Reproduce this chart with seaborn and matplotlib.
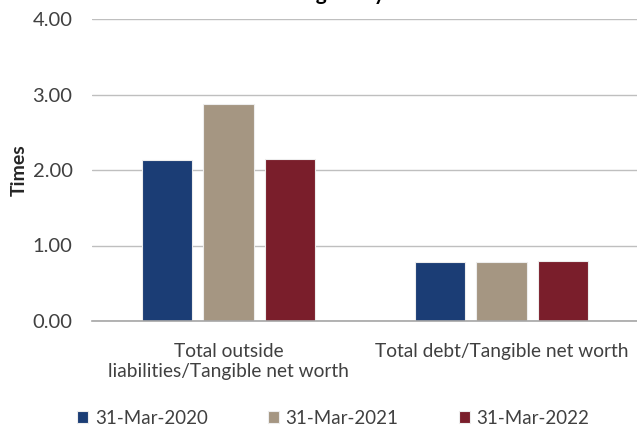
import matplotlib
matplotlib.use("Agg")
import matplotlib.pyplot as plt
import seaborn as sns
import pandas as pd

categories = ["Total outside\nliabilities/Tangible net worth", "Total debt/Tangible net worth"]
periods = ["31-Mar-2020", "31-Mar-2021", "31-Mar-2022"]
values_2020 = [2.13, 0.78]
values_2021 = [2.88, 0.78]
values_2022 = [2.15, 0.80]
colors = ["#1B3D75", "#A59682", "#7A1E2B"]
yticks = [0.0, 1.0, 2.0, 3.0, 4.0]

rows = []
for p, vals in zip(periods, [values_2020, values_2021, values_2022]):
    for c, v in zip(categories, vals):
        rows.append({"Category": c, "Period": p, "Value": v})
df = pd.DataFrame(rows)

sns.set_theme(style="white")
plt.rcParams["font.family"] = ["Lato", "DejaVu Sans"]

fig = plt.figure(figsize=(6.37, 4.30), dpi=100)
ax = fig.add_axes([92 / 637, 1 - 321 / 430, 546 / 637, (321 - 19) / 430])

sns.barplot(data=df, x="Category", y="Value", hue="Period", order=categories,
            hue_order=periods, palette=colors, saturation=1, width=0.68, gap=0.19,
            edgecolor="#EDEDED", linewidth=0.8, ax=ax, legend=True, zorder=3)

ax.set_xlim(-0.5, 1.5)
ax.set_ylim(0, 4)
ax.set_yticks(yticks)
ax.set_yticklabels([f"{t:.2f}" for t in yticks])
ax.yaxis.grid(True, color="#BFBFBF", linewidth=1.0, zorder=0)
ax.set_axisbelow(True)
for s in ["top", "right", "left"]:
    ax.spines[s].set_visible(False)
ax.spines["bottom"].set_color("#A6A6A6")
ax.spines["bottom"].set_linewidth(1.2)
ax.spines["bottom"].set_zorder(4)
ax.tick_params(axis="y", length=0, pad=14, labelsize=14.5, labelcolor="#404040")
ax.tick_params(axis="x", length=0, pad=16, labelsize=13.8, labelcolor="#404040")
for lbl in ax.get_xticklabels():
    lbl.set_verticalalignment("top")
    lbl.set_linespacing(1.22)
ax.set_xlabel("")
ax.set_ylabel("Times", fontsize=14, fontweight="bold", color="#262626")
ax.yaxis.set_label_coords(-0.117, 0.5)

leg = ax.get_legend()
handles = leg.legend_handles
leg.remove()
fig.legend(handles, periods, loc="center", bbox_to_anchor=(0.523, 0.027),
           ncol=3, frameon=False, fontsize=13.5, handlelength=0.6, handleheight=0.6,
           handletextpad=0.35, columnspacing=3.2, labelcolor="#404040")

fig.text(0.52, 1.0, "Gearing Analysis", ha="center", va="baseline",
         fontsize=15, fontweight="bold", color="#000000")

fig.savefig("out.png", dpi=100)
